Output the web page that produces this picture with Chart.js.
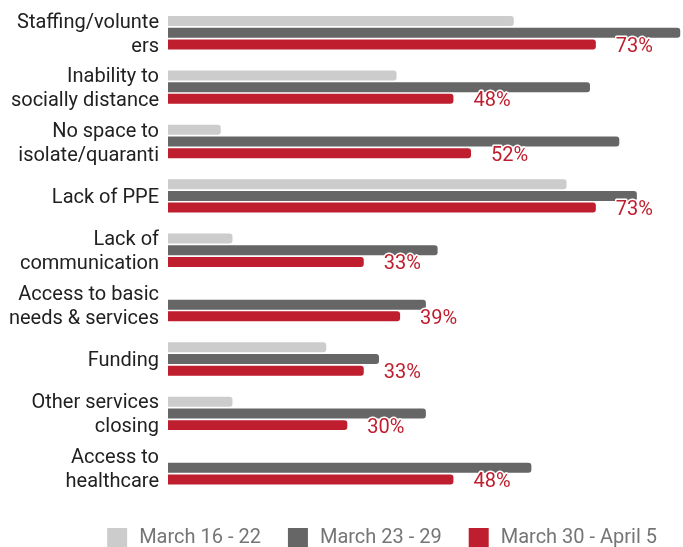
<!DOCTYPE html>
<html>
<head>
<meta charset="utf-8">
<script src="https://cdn.jsdelivr.net/npm/chart.js@4/dist/chart.umd.min.js"></script>
<style>
html,body{margin:0;padding:0;background:#fff;}
#wrap{width:683px;height:547px;position:relative;}
</style>
</head>
<body>
<div id="wrap"><canvas id="c"></canvas></div>
<script>
const categories = [
  ["Staffing/volunte", "ers"],
  ["Inability to", "socially distance"],
  ["No space to", "isolate/quaranti"],
  "Lack of PPE",
  ["Lack of", "communication"],
  ["Access to basic", "needs & services"],
  "Funding",
  ["Other services", "closing"],
  ["Access to", "healthcare"]
];
const seriesNames = ["March 16 - 22", "March 23 - 29", "March 30 - April 5"];
const march16_22 = [59, 39, 9, 68, 11, 0, 27, 11, 0];
const march23_29 = [87.4, 72, 77, 80, 46, 44, 36, 44, 62];
const march30_apr5 = [73, 48.7, 51.7, 73, 33.4, 39.6, 33.4, 30.6, 48.7];
const redLabels = ["73%", "48%", "52%", "73%", "33%", "39%", "33%", "30%", "48%"];
const colors = ["#cccccc", "#666666", "#be1e2d"];

const labelPlugin = {
  id: 'redLabels',
  afterLayout(chart) {
    const l = chart.legend;
    const dy = 501 - l.top;
    l.top += dy; l.bottom += dy;
  },
  afterDatasetsDraw(chart) {
    const ctx = chart.ctx;
    const meta = chart.getDatasetMeta(2);
    ctx.save();
    ctx.font = '20px Roboto';
    ctx.textAlign = 'left';
    ctx.textBaseline = 'middle';
    ctx.lineJoin = 'round';
    meta.data.forEach((el, i) => {
      const txt = redLabels[i];
      const x = el.x + 20, y = el.y + 2.5;
      ctx.lineWidth = 3;
      ctx.strokeStyle = '#ffffff';
      ctx.strokeText(txt, x, y);
      ctx.fillStyle = '#be1e2d';
      ctx.fillText(txt, x, y);
    });
    ctx.restore();
  }
};

new Chart(document.getElementById('c'), {
  type: 'bar',
  data: {
    labels: categories,
    datasets: [
      { label: seriesNames[0], data: march16_22, backgroundColor: colors[0] },
      { label: seriesNames[1], data: march23_29, backgroundColor: colors[1] },
      { label: seriesNames[2], data: march30_apr5, backgroundColor: colors[2] }
    ]
  },
  options: {
    indexAxis: 'y',
    responsive: true,
    maintainAspectRatio: false,
    animation: false,
    datasets: { bar: { categoryPercentage: 0.645, barPercentage: 0.855, borderRadius: 3 } },
    layout: { padding: { top: 5.6, right: 1, left: 0, bottom: -7 } },
    scales: {
      x: { display: false, min: 0, max: 87.7 },
      y: {
        grid: { display: false },
        border: { display: false },
        ticks: { font: { family: 'Roboto', size: 20, lineHeight: 1.2 }, color: '#212121', padding: 1, labelOffset: 2 },
        afterFit(scale) { scale.width = 168; scale.paddingTop = 0; scale.paddingBottom = 0; }
      }
    },
    plugins: {
      legend: {
        position: 'bottom',
        align: 'end',
        labels: {
          font: { family: 'Roboto', size: 20 }, color: '#757575',
          boxWidth: 24, boxHeight: 24, padding: 25,
          generateLabels(chart) {
            return chart.data.datasets.map((ds, i) => ({
              text: ds.label, fillStyle: ds.backgroundColor, strokeStyle: '#ffffff',
              lineWidth: 4, fontColor: '#757575', datasetIndex: i, hidden: false
            }));
          }
        }
      },
      tooltip: { enabled: false }
    }
  },
  plugins: [labelPlugin]
});
</script>
</body>
</html>
